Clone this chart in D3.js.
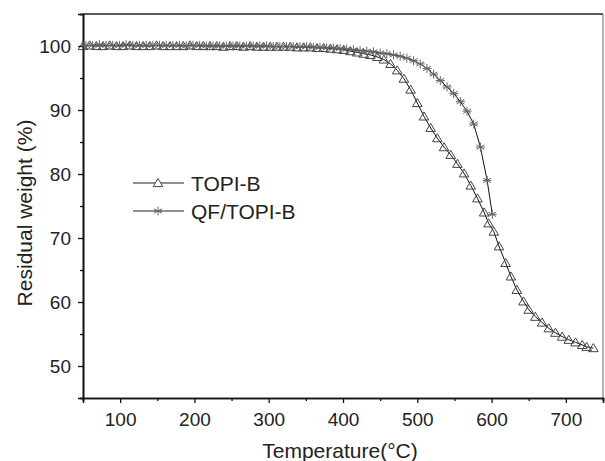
<!DOCTYPE html>
<html><head><meta charset="utf-8">
<script src="https://cdn.jsdelivr.net/npm/d3@7"></script>
<style>
html,body{margin:0;padding:0;background:#fff;}
svg{display:block;font-family:"Liberation Sans",Arial,sans-serif;}
</style></head>
<body><svg id="c" width="605" height="461"></svg>
<script>
// ---- data ----
const seriesNames = ["TOPI-B", "QF/TOPI-B"];
const topiTemp = [50,59,68,77,86,95,104,113,122,131,140,149,158,167,176,185,194,203,212,221,230,239,248,257,266,275,284,293,302,311,320,329,338,347,356,365,374,383,392,401,410,419,428,437,446,455,464,473,482,491,500,509,518,527,536,545,554,563,572,581,590,596,603,610,619,626,634,643,650,659,668,677,686,695,704,713,722,728,737];
const topiWeight = [100.0,100.1,100.0,100.0,100.1,100.0,100.0,100.1,100.0,100.0,100.0,100.1,100.0,100.0,100.0,100.0,100.1,100.0,100.0,100.0,100.0,99.9,100.0,100.0,99.9,100.0,99.9,99.9,99.9,99.9,99.9,99.9,99.8,99.8,99.8,99.7,99.7,99.6,99.5,99.4,99.2,99.0,98.8,98.6,98.3,97.9,97.2,96.2,94.9,93.2,91.1,89.0,87.2,85.6,84.2,83.0,81.6,80.1,78.2,76.2,74.0,72.3,71.0,68.7,66.1,64.0,61.9,60.1,58.8,57.7,56.8,55.9,55.2,54.6,54.1,53.7,53.3,53.0,52.8];
const qfTemp = [54,63,72,81,90,99,108,117,126,135,144,153,162,171,180,189,198,207,216,225,234,243,252,261,270,279,288,297,306,315,324,333,342,351,360,369,378,387,396,405,414,423,432,441,450,459,468,477,486,495,504,513,522,531,540,549,558,567,576,585,594,601];
const qfWeight = [100.1,100.1,100.2,100.1,100.1,100.1,100.2,100.1,100.1,100.1,100.1,100.1,100.1,100.1,100.1,100.0,100.1,100.1,100.0,100.0,100.0,100.0,100.0,100.0,100.0,100.0,100.0,100.0,99.9,99.9,99.9,99.9,99.9,99.9,99.8,99.8,99.7,99.7,99.6,99.5,99.4,99.3,99.2,99.1,98.9,98.8,98.6,98.4,98.1,97.7,97.2,96.5,95.6,94.6,93.6,92.6,91.3,89.8,87.8,84.2,79.0,73.7];
const xTicks = [100,200,300,400,500,600,700];
const xMinor = [50,150,250,350,450,550,650,750];
const yTicks = [50,60,70,80,90,100];
const yMinor = [45,55,65,75,85,95,105];
const xTitle = "Temperature(°C)";
const yTitle = "Residual weight (%)";

// ---- layout ----
const L = 83, R = 603, T = 14, B = 398;
const svg = d3.select("#c");
const x = d3.scaleLinear().domain([50, 750]).range([L, R]);
const y = d3.scaleLinear().domain([45, 105]).range([B, T]);

// frame
svg.append("line").attr("x1", L).attr("x2", R).attr("y1", T).attr("y2", T).attr("stroke", "#222").attr("stroke-width", 1.3);
svg.append("line").attr("x1", R).attr("x2", R).attr("y1", T).attr("y2", B).attr("stroke", "#666").attr("stroke-width", 1);

// axes
const fs = "19px";
const ax = svg.append("g").attr("transform", `translate(0,${B})`)
  .call(d3.axisBottom(x).tickValues(xTicks).tickSize(5).tickPadding(10).tickFormat(d3.format("d")));
const axm = svg.append("g").attr("transform", `translate(0,${B})`)
  .call(d3.axisBottom(x).tickValues(xMinor).tickSize(3).tickFormat(""));
const ay = svg.append("g").attr("transform", `translate(${L},0)`)
  .call(d3.axisLeft(y).tickValues(yTicks).tickSize(5).tickPadding(7).tickFormat(d3.format("d")));
const aym = svg.append("g").attr("transform", `translate(${L},0)`)
  .call(d3.axisLeft(y).tickValues(yMinor).tickSize(3).tickFormat(""));
[ax, axm, ay, aym].forEach(g => {
  g.select(".domain").attr("stroke", "#111").attr("stroke-width", 1.6);
  g.selectAll(".tick line").attr("stroke", "#111").attr("stroke-width", 1.3);
  g.selectAll("text").attr("font-size", fs).attr("fill", "#222").attr("font-family", "Liberation Sans, Arial, sans-serif");
});
ay.selectAll("text").attr("dy", "0.35em");

// titles
svg.append("text").attr("x", 340).attr("y", 458).attr("text-anchor", "middle")
  .attr("font-size", "21px").attr("fill", "#222").text(xTitle);
svg.append("text").attr("transform", "translate(32,213) rotate(-90)").attr("text-anchor", "middle")
  .attr("font-size", "21px").attr("fill", "#222").text(yTitle);

// markers
const triPath = "M0,-4.5L4.8,3.6L-4.8,3.6Z";
const astPath = "M0,-4.5V4.5M-3.9,-2.25L3.9,2.25M-3.9,2.25L3.9,-2.25M-4.5,0H4.5";

const topi = topiTemp.map((t, i) => [t, topiWeight[i]]);
const qf = qfTemp.map((t, i) => [t, qfWeight[i]]);
const line = d3.line().x(d => x(d[0])).y(d => y(d[1]));

svg.append("path").datum(topi).attr("d", line).attr("fill", "none").attr("stroke", "#111").attr("stroke-width", 1);
svg.append("g").selectAll("path").data(topi).join("path")
  .attr("transform", d => `translate(${x(d[0])},${y(d[1])})`)
  .attr("d", triPath).attr("fill", "none").attr("stroke", "#444").attr("stroke-width", 1);

svg.append("path").datum(qf).attr("d", line).attr("fill", "none").attr("stroke", "#111").attr("stroke-width", 1);
svg.append("g").selectAll("path").data(qf).join("path")
  .attr("transform", d => `translate(${x(d[0])},${y(d[1])})`)
  .attr("d", astPath).attr("fill", "none").attr("stroke", "#666").attr("stroke-width", 1);

// legend
const leg = svg.append("g");
const legRows = [{name: seriesNames[0], sym: triPath, col: "#444", ly: 183},
                 {name: seriesNames[1], sym: astPath, col: "#666", ly: 211}];
legRows.forEach(r => {
  leg.append("line").attr("x1", 133).attr("x2", 184).attr("y1", r.ly).attr("y2", r.ly)
    .attr("stroke", "#222").attr("stroke-width", 1);
  leg.append("path").attr("transform", `translate(158,${r.ly})`).attr("d", r.sym)
    .attr("fill", "#fff").attr("stroke", r.col).attr("stroke-width", 1);
  leg.append("text").attr("x", 191).attr("y", r.ly + 8).attr("font-size", "21px").attr("fill", "#222").text(r.name);
});
</script></body></html>
